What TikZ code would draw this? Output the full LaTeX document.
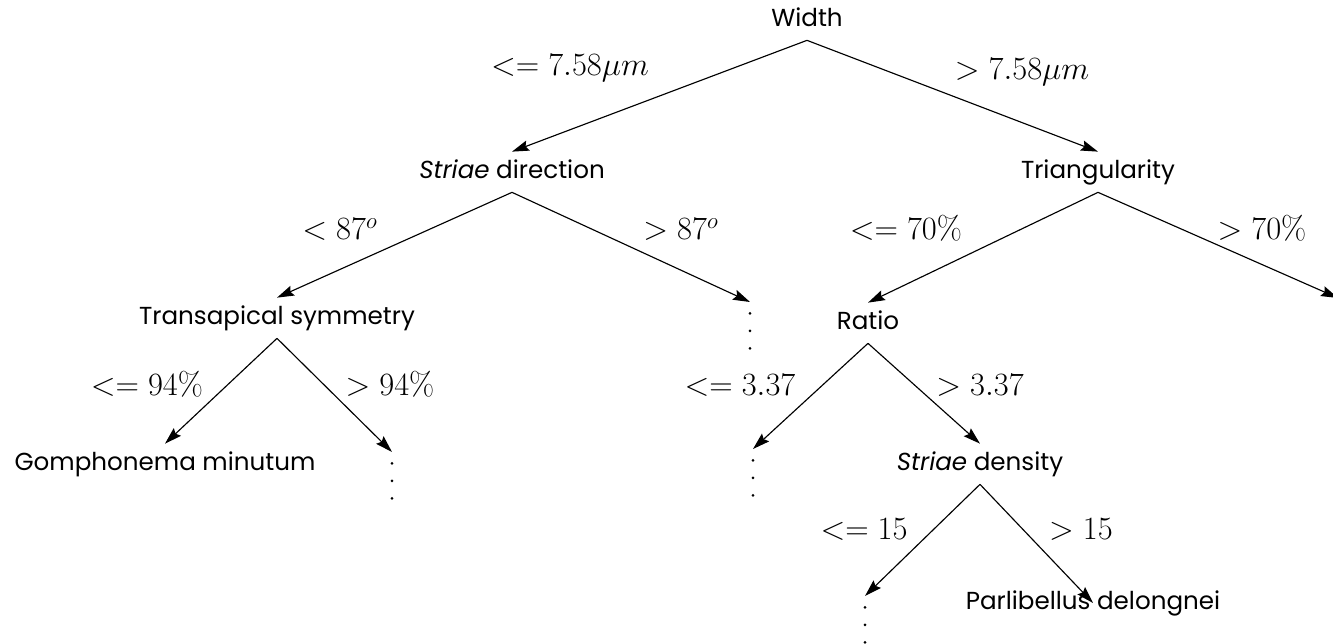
\RequirePackage{fix-cm}
\documentclass[tikz,border=0pt]{standalone}
\usepackage{amsmath,amssymb}
\usepackage[no-math]{fontspec}
\setmainfont{Poppins}
\usepackage{tikz}
\usetikzlibrary{arrows.meta,positioning}
\tikzset{
  splitnode/.style={inner sep=0pt,minimum height=0.8cm,text height=10pt,text depth=3pt,font=\fontsize{14}{16}\selectfont},
  leafnode/.style={splitnode},
  dotsnode/.style={inner sep=0pt,anchor=north,minimum width=2pt,minimum height=0.95cm,
    path picture={\foreach \k in {0,1,2}
      \fill ([yshift=-0.22cm-\k*0.35cm]path picture bounding box.north) circle (0.85pt);}},
  brlabel/.style={inner sep=0pt,text height=13pt,text depth=4pt,font=\fontsize{18.5}{22}\selectfont},
  branch/.style={-{Stealth[length=3.4mm,width=2.1mm,inset=0.5mm]},line width=0.65pt,black},
}

\begin{document}
\begin{tikzpicture}
  \useasboundingbox (0,0) rectangle (26.66,-12.88);
  \node[splitnode] (nW) at (16.14,-0.40) {Width};
  \node[splitnode] (nSD) at (10.24,-3.44) {\textit{Striae} direction};
  \node[splitnode] (nTr) at (21.96,-3.44) {Triangularity};
  \node[splitnode] (nTS) at (5.54,-6.36) {Transapical symmetry};
  \node[dotsnode] (nDa) at (15.00,-6.04) {};
  \node[splitnode] (nRa) at (17.36,-6.46) {Ratio};
  \coordinate (cTr) at (26.76,-5.96);
  \node[leafnode] (nGM) at (3.30,-9.28) {Gomphonema minutum};
  \node[dotsnode] (nDb) at (7.84,-9.04) {};
  \node[dotsnode] (nDc) at (15.06,-8.98) {};
  \node[splitnode] (nSDen) at (19.60,-9.28) {\textit{Striae} density};
  \node[dotsnode] (nDd) at (17.30,-11.92) {};
  \node[leafnode] (nPD) at (21.86,-12.06) {Parlibellus delongnei};
  \draw[branch] (nW.south) -- (nSD.north);
  \draw[branch] (nW.south) -- (nTr.north);
  \draw[branch] (nSD.south) -- (nTS.north);
  \draw[branch] (nSD.south) -- (nDa.north);
  \draw[branch] (nTr.south) -- (nRa.north);
  \draw[branch] (nTr.south) -- (cTr);
  \draw[branch] (nTS.south) -- (nGM.north);
  \draw[branch] (nTS.south) -- (nDb.north);
  \draw[branch] (nRa.south) -- (nDc.north);
  \draw[branch] (nRa.south) -- (nSDen.north);
  \draw[branch] (nSDen.south) -- (nDd.north);
  \draw[branch] (nSDen.south) -- (nPD.center);
  \node[brlabel] (lW1) at (11.40,-1.36) {$<= 7.58\mu m$};
  \node[brlabel] (lW2) at (20.44,-1.44) {$> 7.58\mu m$};
  \node[brlabel] (lSD1) at (6.80,-4.64) {$< 87^o$};
  \node[brlabel] (lSD2) at (13.62,-4.64) {$> 87^o$};
  \node[brlabel] (lTr1) at (18.12,-4.64) {$<= 70\%$};
  \node[brlabel] (lTr2) at (25.24,-4.64) {$> 70\%$};
  \node[brlabel] (lTS1) at (2.94,-7.76) {$<= 94\%$};
  \node[brlabel] (lTS2) at (7.80,-7.76) {$> 94\%$};
  \node[brlabel] (lRa1) at (14.80,-7.76) {$<= 3.37$};
  \node[brlabel] (lRa2) at (19.60,-7.76) {$> 3.37$};
  \node[brlabel] (lSDen1) at (17.28,-10.64) {$<= 15$};
  \node[brlabel] (lSDen2) at (21.62,-10.64) {$> 15$};
\end{tikzpicture}
\end{document}
